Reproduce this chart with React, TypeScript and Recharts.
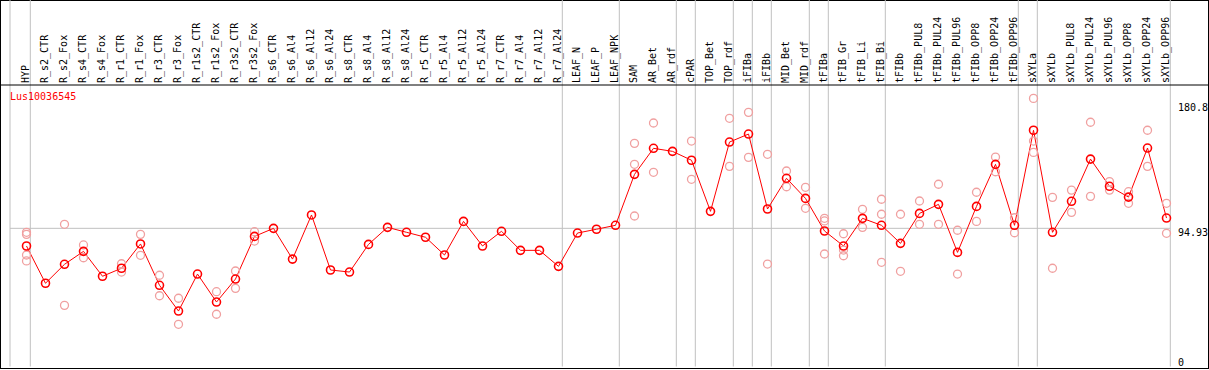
import { ComposedChart, Line, ReferenceLine, Scatter, XAxis, YAxis } from "recharts";

const samples = [
  "HYP", "R_s2_CTR", "R_s2_Fox", "R_s4_CTR", "R_s4_Fox", "R_r1_CTR", "R_r1_Fox", "R_r3_CTR", "R_r3_Fox",
  "R_r1s2_CTR", "R_r1s2_Fox", "R_r3s2_CTR", "R_r3s2_Fox", "R_s6_CTR", "R_s6_Al4", "R_s6_Al12", "R_s6_Al24",
  "R_s8_CTR", "R_s8_Al4", "R_s8_Al12", "R_s8_Al24", "R_r5_CTR", "R_r5_Al4", "R_r5_Al12", "R_r5_Al24",
  "R_r7_CTR", "R_r7_Al4", "R_r7_Al12", "R_r7_Al24", "LEAF_N", "LEAF_P", "LEAF_NPK", "SAM", "AR_Bet", "AR_rdf",
  "cPAR", "TOP_Bet", "TOP_rdf", "iFIBa", "iFIBb", "MID_Bet", "MID_rdf", "tFIBa", "tFIB_Gr", "tFIB_Li", "tFIB_Bi",
  "tFIBb", "tFIBb_PUL8", "tFIBb_PUL24", "tFIBb_PUL96", "tFIBb_OPP8", "tFIBb_OPP24", "tFIBb_OPP96",
  "sXYLa", "sXYLb", "sXYLb_PUL8", "sXYLb_PUL24", "sXYLb_PUL96", "sXYLb_OPP8", "sXYLb_OPP24", "sXYLb_OPP96"
];

const meanValues = [
  82.8, 57.2, 70.2, 79.1, 62.0, 67.5, 84.2, 55.8, 38.1, 63.5,
  44.3, 60.1, 89.4, 94.9, 73.8, 104.1, 66.3, 64.9, 83.9, 95.6,
  92.2, 88.8, 76.6, 99.7, 82.8, 92.9, 79.8, 79.8, 68.8, 91.7,
  94.3, 97.0, 132.0, 149.9, 147.8, 141.7, 106.6, 154.2, 159.7, 108.2,
  129.3, 115.5, 93.1, 82.8, 101.8, 97.0, 84.6, 105.2, 111.4, 78.4,
  110.0, 138.9, 97.0, 162.3, 92.2, 113.5, 142.5, 123.8, 116.4, 150.1, 102.0
];

// individual replicates, by sample
const replicateValues: [string, number[]][] = [
  ["HYP", [92.2, 90.8, 76.6, 72.5]],
  ["R_s2_Fox", [97.7, 42.0]],
  ["R_s4_CTR", [83.5, 74.7]],
  ["R_r1_CTR", [70.6, 64.9]],
  ["R_r1_Fox", [90.8, 76.4]],
  ["R_r3_CTR", [62.7, 48.6]],
  ["R_r3_Fox", [46.9, 29.0]],
  ["R_r1s2_Fox", [51.4, 35.9]],
  ["R_r3s2_CTR", [65.6, 53.7]],
  ["R_r3s2_Fox", [92.6, 86.2]],
  ["SAM", [153.3, 138.9, 103.4]],
  ["AR_Bet", [167.3, 133.4]],
  ["cPAR", [154.9, 128.6]],
  ["TOP_rdf", [170.5, 137.5]],
  ["iFIBa", [174.6, 143.7]],
  ["iFIBb", [145.8, 70.4]],
  ["MID_Bet", [134.3, 123.5]],
  ["MID_rdf", [123.1, 108.7]],
  ["tFIBa", [101.8, 100.0, 77.3]],
  ["tFIB_Gr", [91.2, 80.0, 76.1]],
  ["tFIB_Li", [108.0, 95.6]],
  ["tFIB_Bi", [114.9, 104.6, 71.6]],
  ["tFIBb", [104.6, 65.4]],
  ["tFIBb_PUL8", [113.7, 97.7]],
  ["tFIBb_PUL24", [125.2, 97.7]],
  ["tFIBb_PUL96", [93.6, 63.5]],
  ["tFIBb_OPP8", [119.7, 99.7]],
  ["tFIBb_OPP24", [143.9, 133.8]],
  ["tFIBb_OPP96", [102.2, 91.9]],
  ["sXYLa", [184.2, 154.9, 147.1]],
  ["sXYLb", [116.2, 67.5]],
  ["sXYLb_PUL8", [121.2, 105.9]],
  ["sXYLb_PUL24", [167.8, 116.9]],
  ["sXYLb_PUL96", [127.0, 121.2]],
  ["sXYLb_OPP8", [120.1, 112.1]],
  ["sXYLb_OPP24", [162.3, 137.5]],
  ["sXYLb_OPP96", [112.1, 91.5]]
];

const yTicks = [0, 94.93, 180.8];
const overallMean = 94.93;
// last sample of each group (a grey separator follows it)
const groupEnds = ["HYP", "R_r7_Al24", "LEAF_NPK", "AR_rdf", "cPAR", "TOP_rdf", "iFIBa", "iFIBb", "MID_rdf", "tFIBa", "tFIB_Bi", "tFIBb_OPP96", "sXYLa", "sXYLb_OPP96"];
const title = "Lus10036545";

const data = samples.map((sample, i) => ({ i, sample, mean: meanValues[i] }));
const repPoints = replicateValues.flatMap(([s, vals]) => vals.map((v) => ({ i: samples.indexOf(s), v })));

const X_DOMAIN: [number, number] = [-1.3947, 62.184];
const PLOT_LEFT = -0.868;
const HEADER_LINE = 193.4;
const Y_MAX = 251.8;
const mono = "DejaVu Sans Mono";

function HeaderTick(props: any) {
  const px = props.x + 2.5;
  return (
    <text x={px} y={83} transform={`rotate(-90 ${px} 83)`} textAnchor="start" fontFamily={mono} fontSize={10} fill="#000">
      {samples[props.payload.value]}
    </text>
  );
}

function ValueTick(props: any) {
  return (
    <text x={1178} y={Math.min(props.y + 8, 365.5)} fontFamily={mono} fontSize={10} fill="#000">
      {props.payload.value}
    </text>
  );
}

export default function App() {
  return (
    <div style={{ position: "absolute", left: 0, top: 0, width: 1209, height: 370, background: "#fff" }}>
      <div style={{ position: "absolute", left: 0, top: 0, width: 1209, height: 369, boxSizing: "border-box", border: "1px solid #000" }} />
      <div style={{ position: "absolute", left: 0, top: 0 }}>
        <ComposedChart width={1209} height={370} data={data} margin={{ top: 0, right: 1, bottom: 3.5, left: 0 }}>
          <XAxis
            type="number"
            dataKey="i"
            domain={X_DOMAIN}
            orientation="top"
            mirror
            ticks={samples.map((_, i) => i)}
            interval={0}
            axisLine={false}
            tickLine={false}
            allowDataOverflow
            tick={(p: any) => <HeaderTick {...p} />}
          />
          <YAxis
            type="number"
            domain={[0, Y_MAX]}
            orientation="right"
            mirror
            ticks={yTicks}
            interval={0}
            axisLine={false}
            tickLine={false}
            allowDataOverflow
            tick={(p: any) => <ValueTick {...p} />}
          />
          <ReferenceLine x={PLOT_LEFT} stroke="#c0c0c0" />
          {groupEnds.map((s) => (
            <ReferenceLine key={s} x={samples.indexOf(s) + 0.2} stroke="#c0c0c0" />
          ))}
          <ReferenceLine
            segment={[{ x: PLOT_LEFT, y: overallMean }, { x: samples.length - 1 + 0.2, y: overallMean }]}
            stroke="#c0c0c0"
          />
          <ReferenceLine y={HEADER_LINE} stroke="#000" />
          <Scatter
            data={repPoints}
            dataKey="v"
            isAnimationActive={false}
            shape={(p: any) => <circle cx={p.cx} cy={p.cy} r={4} fill="none" stroke="#f0a0a0" strokeWidth={1.3} />}
          />
          <Line
            type="linear"
            dataKey="mean"
            stroke="#ff0000"
            strokeWidth={1}
            isAnimationActive={false}
            dot={(p: any) => <circle key={p.index} cx={p.cx} cy={p.cy} r={4} fill="none" stroke="#ff0000" strokeWidth={1.6} />}
            activeDot={false}
          />
        </ComposedChart>
      </div>
      <div style={{ position: "absolute", left: 10, top: 91.5, fontFamily: mono, fontSize: 10, lineHeight: "10px", color: "#ff0000" }}>
        {title}
      </div>
    </div>
  );
}
